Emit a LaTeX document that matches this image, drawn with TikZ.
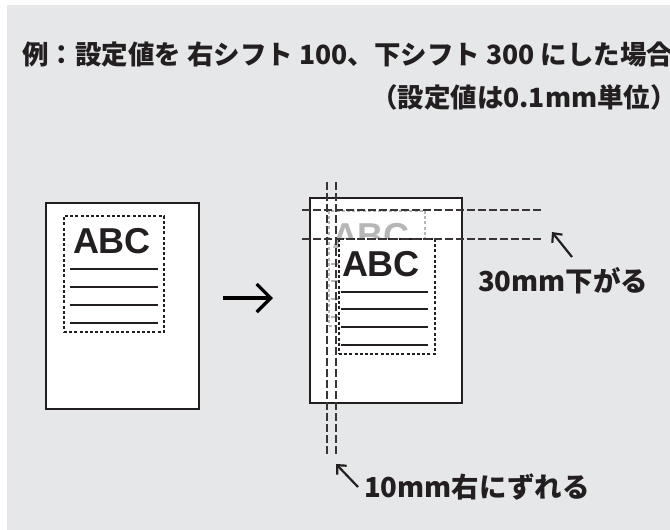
\documentclass[tikz,border=0pt]{standalone}
\usepackage{fontspec}
\setmainfont{Noto Sans CJK JP}
\newfontfamily\abcfont{Liberation Sans}
\usepackage{tikz}
\usetikzlibrary{positioning, arrows.meta, calc}
\definecolor{panelgray}{RGB}{230, 231, 233}
\definecolor{inkdark}{RGB}{35, 31, 32}
\definecolor{ghostgray}{RGB}{182, 182, 184}

\begin{document}
\begin{tikzpicture}[
    x=1pt, y=-1pt,
    page/.style={
      draw=inkdark, line width=1.2pt, fill=white, inner sep=0pt,
      minimum width=153pt, minimum height=206pt
    },
    dotbox/.style={
      draw=inkdark, line width=1.3pt, fill=white, inner sep=0pt,
      dash pattern=on 3pt off 2.2pt,
      minimum width=96pt, minimum height=115pt
    },
    guide/.style={draw=inkdark!90, line width=1.2pt, dash pattern=on 8pt off 3pt},
    rule/.style={draw=inkdark, line width=1.3pt},
    abc/.style={font=\abcfont\bfseries\fontsize{36}{36}\selectfont, text=inkdark, inner sep=0pt},
    note/.style={font=\bfseries\fontsize{27.5}{30}\selectfont, text=inkdark, inner sep=0pt},
    heading/.style={font=\bfseries\fontsize{26.5}{30}\selectfont, text=inkdark, inner sep=0pt},
    pointer/.style={-{Straight Barb[length=7pt, width=13pt]}, line width=2.2pt, draw=inkdark}
  ]
    \useasboundingbox (0,0) rectangle (670,530);
    \fill[panelgray] (7,5) rectangle (670,530);

    % title
    \node[heading, anchor=west] (title)  at (22,55)  {例：設定値を 右シフト 100、下シフト 300 にした場合};
    \node[heading, anchor=east] (unit)   at (677,97) {（設定値は0.1mm単位）};

    % before
    \node[page] (lpage) at (122.5,306) {};
    \node[dotbox, minimum width=100pt, minimum height=116pt] (lbox) at (114,274) {};
    \node[abc] (labc) at (112,241) {ABC};
    \foreach \y in {269,287,305,323}
      \draw[rule] (70,\y) -- (158,\y);

    \coordinate (goS) at (223,298);
    \coordinate (goE) at (273,298);
    \draw[line width=3.2pt, -{Straight Barb[length=14pt, width=28pt]}] (goS) -- (goE);

    % after
    \node[page, minimum width=152pt, minimum height=205pt] (rpage) at (386,300.5) {};
    \node[dotbox, draw=ghostgray] (gbox) at (377,268.5) {};
    \node[abc, text=ghostgray] (gabc) at (371,236) {ABC};
    \foreach \y in {264,281,299,317}
      \draw[rule, draw=ghostgray] (331,\y) -- (418,\y);
    \node[dotbox] (sbox) at (387,296.5) {};
    \node[abc] (sabc) at (381,264) {ABC};
    \foreach \y in {292,309,327,345}
      \draw[rule] (341,\y) -- (428,\y);

    % guides
    \draw[guide] (327,182) -- (327,455);
    \draw[guide] (336,182) -- (336,455);
    \draw[guide] (302,210) -- (541,210);
    \draw[guide] (302,239) -- (541,239);

    % notes
    \node[note, anchor=west] (down)  at (478,281) {30mm下がる};
    \node[note, anchor=west] (right) at (364,487) {10mm右にずれる};
    \coordinate (downTail)  at (572,257);
    \coordinate (downTip)   at (552,232);
    \coordinate (rightTail) at (358,487);
    \coordinate (rightTip)  at (336,464);
    \draw[pointer] (downTail) -- (downTip);
    \draw[pointer] (rightTail) -- (rightTip);
  \end{tikzpicture}
\end{document}
